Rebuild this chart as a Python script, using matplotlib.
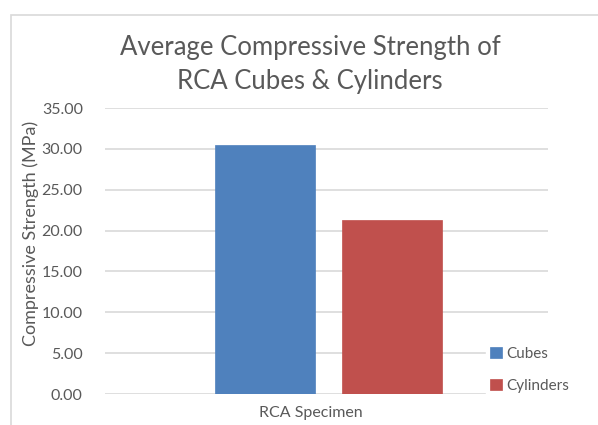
import matplotlib
matplotlib.use("Agg")
import matplotlib.pyplot as plt
from matplotlib.patches import Rectangle

plt.rcParams['font.family'] = ['Lato', 'DejaVu Sans']

series = ["Cubes", "Cylinders"]
values = [30.45, 21.35]
colors = ["#4F81BD", "#C0504D"]
category = "RCA Specimen"
yticks = [0, 5, 10, 15, 20, 25, 30, 35]

W, H = 598, 425
fig = plt.figure(figsize=(W / 100, H / 100), dpi=100)
fig.patch.set_facecolor("white")

# chart border
fig.patches.append(Rectangle((11 / W, -0.05), 1.2, (425 - 15) / H + 0.05,
                             transform=fig.transFigure, fill=False,
                             edgecolor="#D9D9D9", linewidth=1.2))

ax = fig.add_axes([105 / W, (H - 394) / H, (548 - 105) / W, (394 - 108) / H])
gray = "#595959"
width = 0.226
offsets = [-0.1395, 0.147]
for s, v, c, o in zip(series, values, colors, offsets):
    ax.bar(o, v, width=width, color=c, label=s, zorder=3, edgecolor=c, linewidth=0.5)

ax.set_xlim(-0.5, 0.5)
ax.set_ylim(0, 35)
ax.set_yticks(yticks)
ax.set_yticklabels([f"{t:.2f}" for t in yticks], color=gray, fontsize=11.5)
ax.tick_params(axis='y', length=0, pad=16)
ax.set_xticks([])
ax.grid(axis='y', color="#D9D9D9", linewidth=1.2, zorder=0)
for sp in ax.spines.values():
    sp.set_visible(False)

fig.text(311 / W, 1 - 413 / H, category, ha='center', va='center', color=gray, fontsize=11.5)
fig.text(31 / W, 1 - 233 / H, "Compressive Strength (MPa)", rotation=90,
         ha='center', va='center', color=gray, fontsize=13)
fig.text(310 / W, 1 - 65 / H, "Average Compressive Strength of\nRCA Cubes & Cylinders",
         ha='center', va='center', color=gray, fontsize=18.5, linespacing=1.45)

leg = fig.legend(loc='upper left', bbox_to_anchor=(478 / W, 1 - 335 / H),
                 frameon=True, fancybox=False, edgecolor="white", facecolor="white",
                 framealpha=1, fontsize=11, handlelength=0.75, handleheight=0.75,
                 handletextpad=0.3, labelspacing=1.15, borderpad=0.3)
for t in leg.get_texts():
    t.set_color(gray)

fig.savefig("out.png", dpi=100)
